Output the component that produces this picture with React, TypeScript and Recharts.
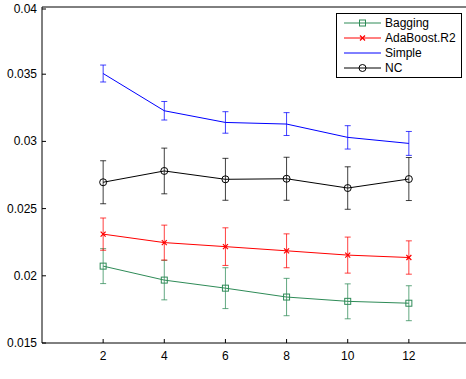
import React from 'react';
import { LineChart, Line, XAxis, YAxis, ErrorBar, ReferenceArea } from 'recharts';

// ensemble size on x
const sizes = [2, 4, 6, 8, 10, 12];

const bagging = [0.02072, 0.01968, 0.01908, 0.01842, 0.0181, 0.01796];
const baggingErr = [0.0013, 0.00147, 0.00152, 0.00139, 0.0013, 0.0013];

const adaboost = [0.0231, 0.02247, 0.02217, 0.02186, 0.02154, 0.02136];
const adaboostErr = [0.0012, 0.0013, 0.0014, 0.00126, 0.00134, 0.00124];

const simple = [0.03505, 0.03228, 0.03141, 0.03129, 0.0303, 0.02985];
const simpleErr = [0.00063, 0.00069, 0.0008, 0.00085, 0.00087, 0.00089];

const nc = [0.02696, 0.0278, 0.02718, 0.02722, 0.02653, 0.0272];
const ncErr = [0.0016, 0.0017, 0.00156, 0.0016, 0.00158, 0.0016];

const xTicks = [2, 4, 6, 8, 10, 12];
const yTicks = [0.015, 0.02, 0.025, 0.03, 0.035, 0.04];

const COLORS = {
  bagging: '#2e8b57',
  adaboost: '#ff0000',
  simple: '#0000ff',
  nc: '#000000',
};

const FONT = 'Liberation Sans, Arial, Helvetica, sans-serif';

const data = sizes.map((x, i) => ({
  x,
  bagging: bagging[i],
  baggingErr: baggingErr[i],
  adaboost: adaboost[i],
  adaboostErr: adaboostErr[i],
  simple: simple[i],
  simpleErr: simpleErr[i],
  nc: nc[i],
  ncErr: ncErr[i],
}));

type Shape = 'square' | 'cross' | 'circle' | 'none';

const Marker = ({ cx, cy, shape, color }: { cx: number; cy: number; shape: Shape; color: string }) => {
  if (shape === 'square') {
    return <rect x={cx - 3} y={cy - 3} width={6} height={6} fill="none" stroke={color} strokeWidth={1} />;
  }
  if (shape === 'cross') {
    return (
      <g stroke={color} strokeWidth={1.2}>
        <line x1={cx - 2.5} y1={cy - 2.5} x2={cx + 2.5} y2={cy + 2.5} />
        <line x1={cx - 2.5} y1={cy + 2.5} x2={cx + 2.5} y2={cy - 2.5} />
      </g>
    );
  }
  if (shape === 'circle') {
    return <circle cx={cx} cy={cy} r={3.5} fill="none" stroke={color} strokeWidth={1} />;
  }
  return <g />;
};

const makeDot = (shape: Shape, color: string) => (props: any) => (
  <Marker key={`${shape}-${props.index}`} cx={props.cx} cy={props.cy} shape={shape} color={color} />
);

// inward ticks, MATLAB style
const BottomTick = (props: any) => {
  const { x, y, payload } = props;
  return (
    <g>
      <line x1={x} y1={y} x2={x} y2={y - 4} stroke="#000" strokeWidth={1} />
      <text x={x} y={y + 17} textAnchor="middle" fontSize={12} fontFamily={FONT} fill="#000">
        {payload.value}
      </text>
    </g>
  );
};

const TopTick = (props: any) => {
  const { x, y } = props;
  return <line x1={x} y1={y} x2={x} y2={y + 4} stroke="#000" strokeWidth={1} />;
};

const LeftTick = (props: any) => {
  const { x, y, payload } = props;
  return (
    <g>
      <line x1={x} y1={y} x2={x + 4} y2={y} stroke="#000" strokeWidth={1} />
      <text x={x - 5} y={y + 4} textAnchor="end" fontSize={12} fontFamily={FONT} fill="#000">
        {payload.value}
      </text>
    </g>
  );
};

const legendItems: { name: string; color: string; shape: Shape }[] = [
  { name: 'Bagging', color: COLORS.bagging, shape: 'square' },
  { name: 'AdaBoost.R2', color: COLORS.adaboost, shape: 'cross' },
  { name: 'Simple', color: COLORS.simple, shape: 'none' },
  { name: 'NC', color: COLORS.nc, shape: 'circle' },
];

const LegendBox = () => (
  <svg
    width={126}
    height={65}
    style={{ position: 'absolute', left: 336, top: 13 }}
  >
    <rect x={0.5} y={0.5} width={125} height={64} fill="#fff" stroke="#000" strokeWidth={1} />
    {legendItems.map((item, i) => {
      const cy = 10 + i * 15;
      return (
        <g key={item.name}>
          <line x1={8} y1={cy} x2={45} y2={cy} stroke={item.color} strokeWidth={1} />
          <Marker cx={26.5} cy={cy} shape={item.shape} color={item.color} />
          <text x={49} y={cy + 4} fontSize={12} fontFamily={FONT} fill="#000">
            {item.name}
          </text>
        </g>
      );
    })}
  </svg>
);

const series = [
  { key: 'bagging', err: 'baggingErr', color: COLORS.bagging, shape: 'square' as Shape },
  { key: 'adaboost', err: 'adaboostErr', color: COLORS.adaboost, shape: 'cross' as Shape },
  { key: 'simple', err: 'simpleErr', color: COLORS.simple, shape: 'none' as Shape },
  { key: 'nc', err: 'ncErr', color: COLORS.nc, shape: 'circle' as Shape },
];

export default function App() {
  return (
    <div
      style={{
        position: 'absolute',
        left: 0,
        top: 0,
        width: 466,
        height: 379,
        overflow: 'hidden',
        background: '#fff',
      }}
    >
      <LineChart width={471} height={379} data={data} margin={{ top: 7, right: 1, bottom: 0, left: 0 }}>
        <XAxis
          dataKey="x"
          type="number"
          domain={[0, 14]}
          ticks={xTicks}
          axisLine={false}
          tickLine={false}
          tickSize={0}
          tickMargin={0}
          height={36}
          tick={<BottomTick />}
          allowDataOverflow
        />
        <XAxis
          xAxisId="top"
          orientation="top"
          dataKey="x"
          type="number"
          domain={[0, 14]}
          ticks={xTicks}
          axisLine={false}
          tickLine={false}
          tickSize={0}
          tickMargin={0}
          height={0}
          tick={<TopTick />}
          allowDataOverflow
        />
        <YAxis
          type="number"
          domain={[0.015, 0.04]}
          ticks={yTicks}
          axisLine={false}
          tickLine={false}
          tickSize={0}
          tickMargin={0}
          width={42}
          tick={<LeftTick />}
          allowDataOverflow
        />
        <ReferenceArea
          x1={0}
          x2={14}
          y1={0.015}
          y2={0.04}
          fill="none"
          stroke="#000"
          strokeWidth={1}
          ifOverflow="visible"
        />
        {series.map((s) => (
          <Line
            key={s.key}
            type="linear"
            dataKey={s.key}
            stroke={s.color}
            strokeWidth={1}
            dot={makeDot(s.shape, s.color)}
            activeDot={false}
            isAnimationActive={false}
          >
            <ErrorBar dataKey={s.err} width={3} stroke={s.color} strokeOpacity={0.75} strokeWidth={1} direction="y" />
          </Line>
        ))}
      </LineChart>
      <LegendBox />
    </div>
  );
}
